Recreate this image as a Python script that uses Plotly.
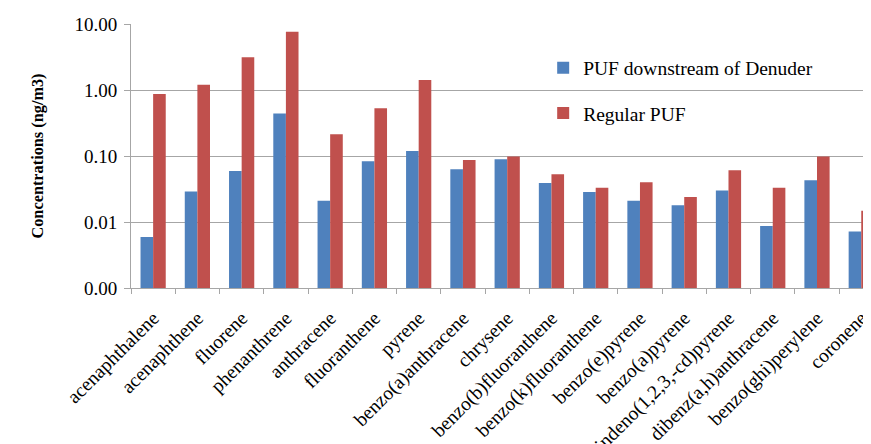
import plotly.graph_objects as go

categories = ["acenaphthalene", "acenaphthene", "fluorene", "phenanthrene", "anthracene",
              "fluoranthene", "pyrene", "benzo(a)anthracene", "chrysene",
              "benzo(b)fluoranthene", "benzo(k)fluoranthene", "benzo(e)pyrene",
              "benzo(a)pyrene", "indeno(1,2,3,-cd)pyrene", "dibenz(a,h)anthracene",
              "benzo(ghi)perylene", "coronene"]

puf_denuder = [0.0059, 0.029, 0.059, 0.44, 0.021, 0.083, 0.119, 0.063, 0.089,
               0.039, 0.0285, 0.021, 0.018, 0.030, 0.0087, 0.043, 0.0072]
regular_puf = [0.87, 1.20, 3.13, 7.6, 0.213, 0.527, 1.42, 0.087, 0.098,
               0.053, 0.033, 0.040, 0.024, 0.061, 0.033, 0.098, 0.0148]

tick_vals = [0.001, 0.01, 0.1, 1, 10]
tick_text = ["0.00", "0.01", "0.10", "1.00", "10.00"]

FONT = "Liberation Serif, Times New Roman, serif"
GRID = "#A6A6A6"

fig = go.Figure()
fig.add_trace(go.Bar(x=categories, y=puf_denuder, name="PUF downstream of Denuder",
                     marker=dict(color="#4F81BD", line=dict(width=0)), legendgroup="a"))
fig.add_trace(go.Bar(x=categories, y=regular_puf, name="Regular PUF",
                     marker=dict(color="#C0504D", line=dict(width=0)), legendgroup="b"))

# page body has an 8px margin, so the figure is 8px smaller and offset
fig.update_layout(
    width=863, height=436,
    margin=dict(l=123, r=0, t=16, b=156, autoexpand=False),
    paper_bgcolor="white", plot_bgcolor="white",
    barmode="group", bargap=0.43, bargroupgap=0,
    font=dict(family=FONT, size=19, color="black"),
    showlegend=True,
    legend=dict(x=0.557, y=0.907, xanchor="left", yanchor="top",
                font=dict(family=FONT, size=19.5, color="black"),
                bgcolor="rgba(0,0,0,0)", tracegroupgap=17, traceorder="grouped"),
    xaxis=dict(range=[-0.5, 16.22], tickangle=-45, showline=True, linecolor=GRID,
               linewidth=1, ticks="outside", tickson="boundaries", ticklen=5,
               tickcolor=GRID, showgrid=False, automargin=False,
               ticklabelstandoff=10,
               tickfont=dict(family=FONT, size=19.5)),
    yaxis=dict(type="log", range=[-3, 1], tickvals=tick_vals, ticktext=tick_text,
               showgrid=True, gridcolor=GRID, gridwidth=1, showline=True,
               linecolor=GRID, ticks="outside", ticklen=6, tickcolor=GRID,
               automargin=False, ticklabelstandoff=3,
               tickfont=dict(family=FONT, size=19),
               title=dict(text="<b>Concentrations (ng/m3)</b>", standoff=26,
                          font=dict(family=FONT, size=16.3)),
               zeroline=False),
)

fig.write_html("out.html")
